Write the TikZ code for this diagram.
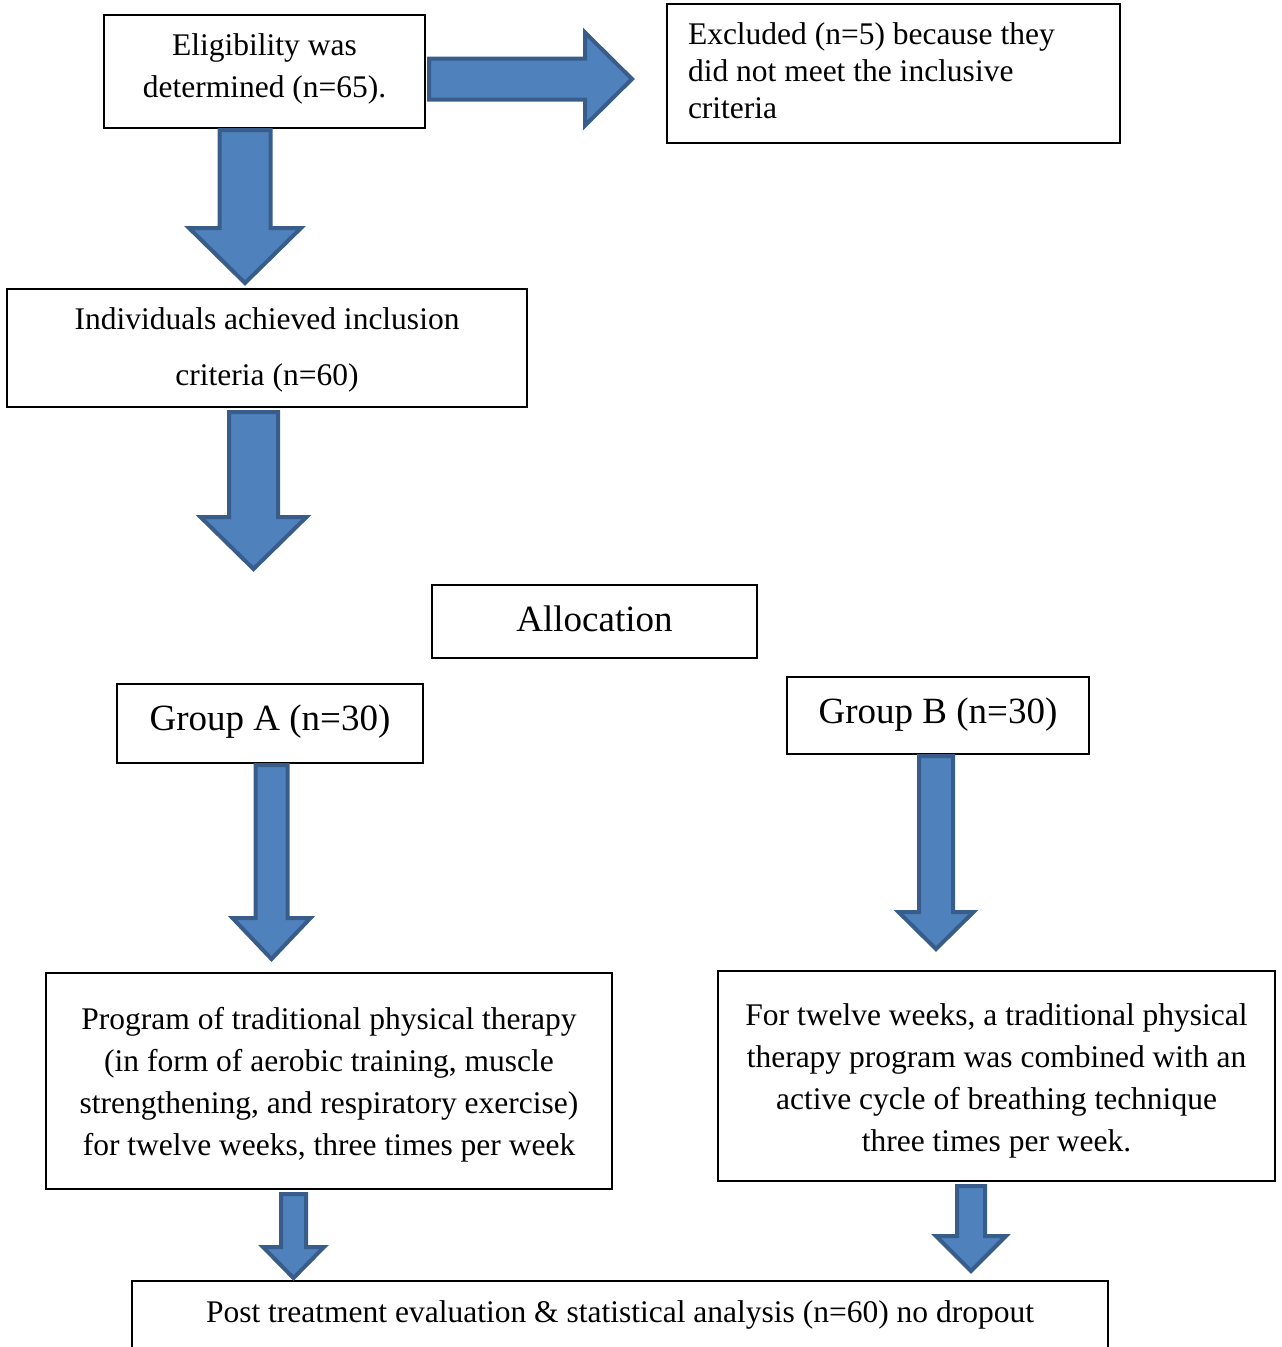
\documentclass[tikz,border=0pt]{standalone}
\usepackage{fontspec}
\setmainfont{Liberation Serif}
\usetikzlibrary{calc}

\definecolor{arrowfill}{HTML}{4F81BD}
\definecolor{arrowline}{HTML}{385D8A}

\tikzset{
    box/.style={draw, line width=2pt, rectangle, inner sep=0pt, align=center,
        font=\fontsize{31.5}{42}\selectfont},
    bigbox/.style={box, font=\fontsize{37}{44}\selectfont},
    fat/.style={fill=arrowfill, draw=arrowline, line width=4pt, line join=miter}
}

% block arrow: from, tip, shaft half width, head half width, head length
\newcommand{\fatarrow}[5]{%
    \path ($(#2)!#5pt!(#1)$) coordinate (hd);
    \draw[fat] ($(#1)!#3pt!90:(#2)$) -- ($(hd)!#3pt!90:(#2)$) -- ($(hd)!#4pt!90:(#2)$)
        -- (#2) -- ($(hd)!#4pt!-90:(#2)$) -- ($(hd)!#3pt!-90:(#2)$) -- ($(#1)!#3pt!-90:(#2)$) -- cycle;
}
% invisible struts to nudge text up or down
\newcommand{\upstrut}[1]{\rule{0pt}{#1}}
\newcommand{\dnstrut}[1]{\rule[-#1]{0pt}{#1}}

\begin{document}
\begin{tikzpicture}[x=1pt, y=-1pt]
    \useasboundingbox (0,0) rectangle (1282,1347);

    % boxes
        \node[box, minimum width=321pt, minimum height=113pt] (elig) at (264.5,71.5)
            {Eligibility was\\determined (n=65).\dnstrut{11pt}};
        \node[box, align=flush left, text width=411pt, inner xsep=21pt, minimum height=139pt,
            font=\fontsize{31.5}{37}\selectfont] (excl) at (893.5,73.5)
            {Excluded (n=5) because they\\did not meet the inclusive\\criteria\dnstrut{6pt}};
        \node[box, minimum width=520pt, minimum height=118pt,
            font=\fontsize{31.5}{56}\selectfont] (incl) at (267,348)
            {\upstrut{26pt}Individuals achieved inclusion\\criteria (n=60)};
        \node[bigbox, minimum width=325pt, minimum height=73pt, text depth=6pt] (alloc) at (594.5,621.5) {Allocation};
        \node[bigbox, minimum width=306pt, minimum height=79pt, text depth=12pt] (grpA) at (270,723.5) {Group A (n=30)};
        \node[bigbox, minimum width=302pt, minimum height=77pt, text depth=10pt] (grpB) at (938,715.5) {Group B (n=30)};
        \node[box, minimum width=566pt, minimum height=216pt] (progA) at (329,1081)
            {\upstrut{30pt}Program of traditional physical therapy\\(in form of aerobic training, muscle\\strengthening, and respiratory exercise)\\for twelve weeks, three times per week};
        \node[box, minimum width=557pt, minimum height=210pt] (progB) at (996.5,1076)
            {\upstrut{32pt}For twelve weeks, a traditional physical\\therapy program was combined with an\\active cycle of breathing technique\\three times per week.};
        \node[box, anchor=north, minimum width=976pt, text height=41pt, text depth=60pt] (post) at (620,1280)
            {Post treatment evaluation \& statistical analysis (n=60) no dropout};

    % arrow ends
        \coordinate (e1) at (429,79);    \coordinate (t1) at (632,79);
        \coordinate (e2) at (245,130);   \coordinate (t2) at (245,283);
        \coordinate (e3) at (253.5,412); \coordinate (t3) at (253.5,569);
        \coordinate (e4) at (271.5,765); \coordinate (t4) at (271.5,959);
        \coordinate (e5) at (936,756);   \coordinate (t5) at (936,949);
        \coordinate (e6) at (293.5,1194); \coordinate (t6) at (293.5,1278);
        \coordinate (e7) at (971,1186);  \coordinate (t7) at (971,1271);

    % arrows
        \fatarrow{e1}{t1}{20.5}{46.5}{47}
        \fatarrow{e2}{t2}{25.5}{56}{55}
        \fatarrow{e3}{t3}{24.5}{53}{52}
        \fatarrow{e4}{t4}{16}{39}{41}
        \fatarrow{e5}{t5}{17}{37.5}{37}
        \fatarrow{e6}{t6}{12.5}{30.5}{31}
        \fatarrow{e7}{t7}{14}{35}{35}
\end{tikzpicture}
\end{document}
